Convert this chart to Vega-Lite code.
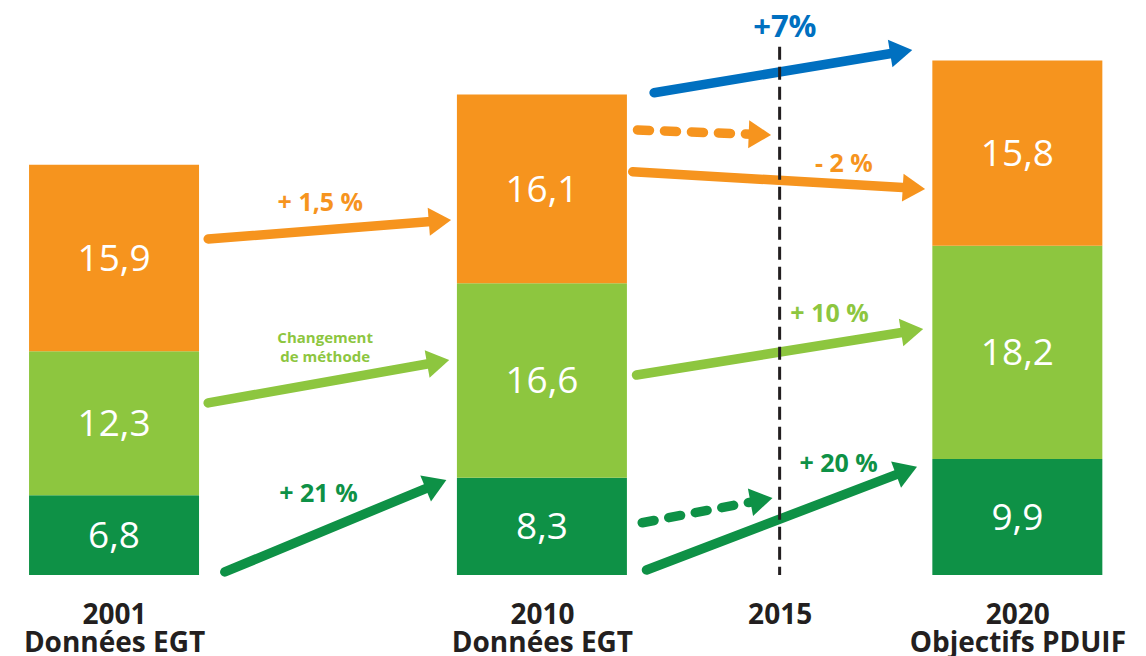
{
  "$schema": "https://vega.github.io/schema/vega-lite/v6.json",
  "width": 1146,
  "height": 575,
  "autosize": {"type": "none"},
  "padding": {"left": 0, "right": 0, "top": 0, "bottom": 81},
  "background": "white",
  "config": {"view": {"stroke": null}, "font": "Open Sans"},
  "datasets": {
    "bars": [
      {"year": 2001, "mode": "Transports collectifs", "ord": 1, "value": 6.8},
      {"year": 2001, "mode": "Modes actifs", "ord": 2, "value": 12.3},
      {"year": 2001, "mode": "Voiture", "ord": 3, "value": 15.9},
      {"year": 2010, "mode": "Transports collectifs", "ord": 1, "value": 8.3},
      {"year": 2010, "mode": "Modes actifs", "ord": 2, "value": 16.6},
      {"year": 2010, "mode": "Voiture", "ord": 3, "value": 16.1},
      {"year": 2020, "mode": "Transports collectifs", "ord": 1, "value": 9.9},
      {"year": 2020, "mode": "Modes actifs", "ord": 2, "value": 18.2},
      {"year": 2020, "mode": "Voiture", "ord": 3, "value": 15.8}
    ],
    "arrows": [
      {"mode": "Voiture", "kind": "observé", "year": 2002.98, "value": 28.67, "year_end": 2008.09, "value_end": 30.29},
      {"mode": "Modes actifs", "kind": "observé", "year": 2002.98, "value": 14.68, "year_end": 2008.05, "value_end": 18.34},
      {"mode": "Transports collectifs", "kind": "observé", "year": 2003.33, "value": 0.26, "year_end": 2007.99, "value_end": 8.11},
      {"mode": "Total", "kind": "objectif", "year": 2012.36, "value": 41.15, "year_end": 2017.79, "value_end": 44.8},
      {"mode": "Voiture", "kind": "tendance", "year": 2012.01, "value": 37.97, "year_end": 2014.82, "value_end": 37.54},
      {"mode": "Voiture", "kind": "objectif", "year": 2011.91, "value": 34.41, "year_end": 2018.06, "value_end": 32.94},
      {"mode": "Modes actifs", "kind": "objectif", "year": 2011.99, "value": 17.06, "year_end": 2018.02, "value_end": 20.99},
      {"mode": "Transports collectifs", "kind": "tendance", "year": 2012.11, "value": 4.46, "year_end": 2014.85, "value_end": 6.57},
      {"mode": "Transports collectifs", "kind": "objectif", "year": 2012.2, "value": 0.43, "year_end": 2017.89, "value_end": 9.24}
    ],
    "notes": [
      {"mode": "Voiture", "kind": "pct", "text": "+ 1,5 %", "year": 2005.34, "value": 31.08},
      {"mode": "Modes actifs", "kind": "petit", "text": ["Changement", "de méthode"], "year": 2005.44, "value": 19.82},
      {"mode": "Transports collectifs", "kind": "pct", "text": "+ 21 %", "year": 2005.3, "value": 6.25},
      {"mode": "Voiture", "kind": "pct", "text": "- 2 %", "year": 2016.35, "value": 34.41},
      {"mode": "Modes actifs", "kind": "pct", "text": "+ 10 %", "year": 2016.05, "value": 21.61},
      {"mode": "Transports collectifs", "kind": "pct", "text": "+ 20 %", "year": 2016.24, "value": 8.81},
      {"mode": "Total", "kind": "total", "text": "+7%", "year": 2015.11, "value": 45.9}
    ],
    "marker": [
      {"year": 2015, "value": 45.08, "value_end": 0}
    ]
  },
  "layer": [
    {
      "data": {"name": "bars"},
      "mark": {"type": "bar", "size": 170},
      "encoding": {
        "x": {"field": "year", "type": "quantitative", "scale": {"domain": [1998.7064, 2022.601], "nice": false, "zero": false},
          "axis": {"values": [2001, 2010, 2015, 2020], "labelExpr": "datum.value == 2001 ? ['2001', 'Données EGT'] : datum.value == 2010 ? ['2010', 'Données EGT'] : datum.value == 2020 ? ['2020', 'Objectifs PDUIF'] : '2015'", "title": null, "domain": false, "ticks": false, "grid": false, "labelFont": "Open Sans", "labelFontWeight": "bold", "labelFontSize": 28, "labelColor": "#231F20", "labelLineHeight": 28, "labelPadding": 26, "labelLimit": 0, "labelOverlap": false, "labelFlush": false, "labelBound": false, "labelBaseline": "top"}},
        "y": {"field": "value", "type": "quantitative", "stack": "zero", "scale": {"domain": [0, 49.06], "nice": false}, "axis": null},
        "order": {"field": "ord", "type": "quantitative"},
        "color": {"field": "mode", "type": "nominal", "scale": {"domain": ["Voiture", "Modes actifs", "Transports collectifs", "Total"], "range": ["#F6941E", "#8DC63F", "#0E9146", "#0070C0"]}, "legend": null}
      }
    },
    {
      "data": {"name": "arrows"},
      "transform": [
        {"calculate": "(datum.year_end - datum.year) * 47.96", "as": "dxp"},
        {"calculate": "(datum.value_end - datum.value) * 11.72", "as": "dyp"},
        {"calculate": "14 / sqrt(datum.dxp * datum.dxp + datum.dyp * datum.dyp)", "as": "f"},
        {"calculate": "datum.year_end - (datum.year_end - datum.year) * datum.f", "as": "lx"},
        {"calculate": "datum.value_end - (datum.value_end - datum.value) * datum.f", "as": "ly"}
      ],
      "layer": [
        {
          "transform": [{"filter": "datum.kind != 'tendance'"}],
          "mark": {"type": "rule", "strokeWidth": 9.5, "strokeCap": "round"},
          "encoding": {
            "x": {"field": "year", "type": "quantitative", "scale": {"domain": [1998.7064, 2022.601], "nice": false, "zero": false}},
            "x2": {"field": "lx"},
            "y": {"field": "value", "type": "quantitative", "scale": {"domain": [0, 49.06], "nice": false}, "axis": null},
            "y2": {"field": "ly"},
            "color": {"field": "mode", "type": "nominal", "legend": null}
          }
        },
        {
          "transform": [{"filter": "datum.kind == 'tendance'"}],
          "mark": {"type": "rule", "strokeWidth": 9.5, "strokeCap": "round", "strokeDash": [12, 15]},
          "encoding": {
            "x": {"field": "year", "type": "quantitative", "scale": {"domain": [1998.7064, 2022.601], "nice": false, "zero": false}},
            "x2": {"field": "lx"},
            "y": {"field": "value", "type": "quantitative", "scale": {"domain": [0, 49.06], "nice": false}, "axis": null},
            "y2": {"field": "ly"},
            "color": {"field": "mode", "type": "nominal", "legend": null}
          }
        },
        {
          "transform": [{"calculate": "atan2(-datum.dyp, datum.dxp) * 180 / PI", "as": "ang"}],
          "mark": {"type": "point", "shape": "M0,0L-1.6,-1L-1.6,1Z", "size": 784, "filled": true, "opacity": 1, "strokeWidth": 0},
          "encoding": {
            "x": {"field": "year_end", "type": "quantitative", "scale": {"domain": [1998.7064, 2022.601], "nice": false, "zero": false}},
            "y": {"field": "value_end", "type": "quantitative", "scale": {"domain": [0, 49.06], "nice": false}, "axis": null},
            "angle": {"field": "ang", "type": "quantitative", "scale": null},
            "color": {"field": "mode", "type": "nominal", "legend": null}
          }
        }
      ]
    },
    {
      "data": {"name": "marker"},
      "mark": {"type": "rule", "color": "#231F20", "strokeWidth": 3, "strokeDash": [13, 7]},
      "encoding": {
        "x": {"field": "year", "type": "quantitative", "scale": {"domain": [1998.7064, 2022.601], "nice": false, "zero": false}},
        "y": {"field": "value", "type": "quantitative", "scale": {"domain": [0, 49.06], "nice": false}, "axis": null},
        "y2": {"field": "value_end"}
      }
    },
    {
      "data": {"name": "notes"},
      "layer": [
        {
          "transform": [{"filter": "datum.kind == 'pct'"}],
          "mark": {"type": "text", "font": "Open Sans", "fontWeight": "bold", "fontSize": 25, "align": "center", "baseline": "alphabetic"},
          "encoding": {
            "x": {"field": "year", "type": "quantitative", "scale": {"domain": [1998.7064, 2022.601], "nice": false, "zero": false}},
            "y": {"field": "value", "type": "quantitative", "scale": {"domain": [0, 49.06], "nice": false}, "axis": null},
            "text": {"field": "text"},
            "color": {"field": "mode", "type": "nominal", "legend": null}
          }
        },
        {
          "transform": [{"filter": "datum.kind == 'petit'"}],
          "mark": {"type": "text", "font": "Open Sans", "fontWeight": "bold", "fontSize": 15, "lineHeight": 19, "align": "center", "baseline": "alphabetic"},
          "encoding": {
            "x": {"field": "year", "type": "quantitative", "scale": {"domain": [1998.7064, 2022.601], "nice": false, "zero": false}},
            "y": {"field": "value", "type": "quantitative", "scale": {"domain": [0, 49.06], "nice": false}, "axis": null},
            "text": {"field": "text"},
            "color": {"field": "mode", "type": "nominal", "legend": null}
          }
        },
        {
          "transform": [{"filter": "datum.kind == 'total'"}],
          "mark": {"type": "text", "font": "Open Sans", "fontWeight": "bold", "fontSize": 31, "align": "center", "baseline": "alphabetic"},
          "encoding": {
            "x": {"field": "year", "type": "quantitative", "scale": {"domain": [1998.7064, 2022.601], "nice": false, "zero": false}},
            "y": {"field": "value", "type": "quantitative", "scale": {"domain": [0, 49.06], "nice": false}, "axis": null},
            "text": {"field": "text"},
            "color": {"field": "mode", "type": "nominal", "legend": null}
          }
        }
      ]
    },
    {
      "data": {"name": "bars"},
      "transform": [
        {"stack": "value", "groupby": ["year"], "sort": [{"field": "ord", "order": "ascending"}], "as": ["v0", "v1"]},
        {"calculate": "(datum.v0 + datum.v1) / 2", "as": "vmid"},
        {"calculate": "replace(format(datum.value, '.1f'), '.', ',')", "as": "label"}
      ],
      "mark": {"type": "text", "font": "Open Sans", "fontSize": 37, "color": "white", "align": "center", "baseline": "middle", "dy": 2},
      "encoding": {
        "x": {"field": "year", "type": "quantitative", "scale": {"domain": [1998.7064, 2022.601], "nice": false, "zero": false}},
        "y": {"field": "vmid", "type": "quantitative", "scale": {"domain": [0, 49.06], "nice": false}, "axis": null},
        "text": {"field": "label"}
      }
    }
  ]
}
